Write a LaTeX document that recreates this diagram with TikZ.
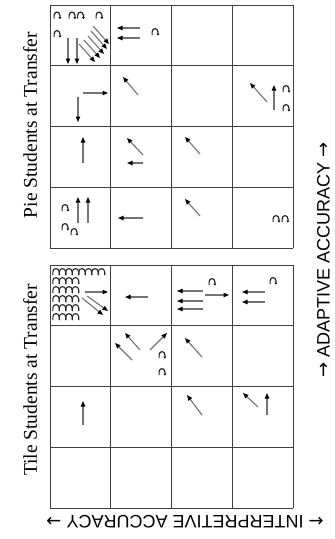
\documentclass[tikz,border=0pt]{standalone}
\usepackage{fontspec}
\setmainfont{Liberation Serif}
\newfontfamily\axisfont{Liberation Sans}
\newfontfamily\arrowfont{DejaVu Sans}
\usetikzlibrary{arrows.meta}
\begin{document}
\begin{tikzpicture}[x=1pt,y=-1pt,
  gridline/.style={draw=black!75, line width=0.9pt},
  mv/.style={draw=black!55, line width=1.1pt, -{Triangle[length=5.5pt,width=4.4pt,color=black]}},
  archline/.style={draw=black!85, line width=1.2pt, -{Triangle[length=2pt,width=2.8pt,color=black]}},
  arch/.pic={\draw[archline] (-2.9,3) -- (-2.9,0) .. controls (-2.9,-4.5) and (2.9,-4.5) .. (2.9,0) -- (2.9,3.5);},
  wave/.pic={\draw[draw=black!85, line width=1.1pt] (-3.2,3) -- (-3.2,0) .. controls (-3.2,-4.5) and (3.2,-4.5) .. (3.2,0) -- (3.2,3);},
  titletext/.style={font=\fontsize{19.5}{21}\selectfont, rotate=90, inner sep=0pt},
  axistext/.style={font=\axisfont\fontsize{18}{20}\selectfont, inner sep=0pt}]
\useasboundingbox[fill=white] (0,0) rectangle (335,539);

% grids
\foreach \yb in {5,265}{
  \foreach \k in {0,1,2,3,4}{
    \draw[gridline] ({50+60.75*\k},\yb) -- ({50+60.75*\k},{\yb+243});
    \draw[gridline] (50,{\yb+60.75*\k}) -- (293,{\yb+60.75*\k});
  }
}

% ---------- Pie grid ----------
% r1c1
\foreach \p in {(57,15.5),(72,15.5),(80.5,15.5),(99,15.5),(57,34)} \pic at \p {arch};
\draw[mv] (68,38) -- (68,64);
\draw[mv] (77,38) -- (77,64);
\draw[mv] (79,44) -- (95,62);
\draw[mv] (84,40) -- (100,58);
\draw[mv] (88,36) -- (104,54);
\draw[mv] (91,31) -- (107,49);
\draw[mv] (93,26) -- (109,44);
% r1c2
\draw[mv] (140,28) -- (117,28);
\draw[mv] (140,38) -- (117,38);
\pic at (155,32) {arch};
% r2c1
\draw[mv] (83,93) -- (108,93);
\draw[mv] (78,97) -- (78,122);
% r2c2
\draw[mv] (138,95) -- (123,77);
% r2c4
\draw[mv] (267,102) -- (250,83);
\draw[mv] (274,110) -- (274,85);
\pic at (286,89) {arch};
\pic at (286,108) {arch};
% r3c1
\draw[mv] (83,163) -- (83,137);
% r3c2
\draw[mv] (143,155) -- (127,138);
\draw[mv] (143,163) -- (127,163);
% r3c3
\draw[mv] (200,154) -- (185,137);
% r4c1
\foreach \p in {(65,208),(65,227),(74,232)} \pic at \p {arch};
\draw[mv] (78,223) -- (78,197);
\draw[mv] (88,223) -- (88,197);
% r4c2
\draw[mv] (143,218) -- (118,218);
% r4c3
\draw[mv] (200,216) -- (185,199);
% r4c4
\pic at (276,219) {arch};
\pic at (285,219) {arch};

% ---------- Tile grid ----------
% R1C1 dense loops
\foreach \yy in {272,281,290,299,308,317}
  \foreach \xx in {56,62.5,69,75.5} \pic at (\xx,\yy) {wave};
\foreach \xx in {82,88.5,95,101.5} \pic at (\xx,272) {wave};
\draw[mv] (85,292) -- (108,292);
\draw[mv] (82,298) -- (103,315);
\draw[mv] (87,296) -- (108,311);
% R1C2
\draw[mv] (148,297) -- (125,297);
% R1C3
\pic at (212,282) {arch};
\draw[mv] (203,291) -- (177,291);
\draw[mv] (203,301) -- (177,301);
\draw[mv] (203,309) -- (177,309);
\draw[mv] (205,295) -- (229,295);
% R1C4
\pic at (273,281) {arch};
\draw[mv] (265,292) -- (242,292);
\draw[mv] (265,302) -- (242,302);
% R2C2
\draw[mv] (132,360) -- (115,343);
\draw[mv] (140,350) -- (125,333);
\draw[mv] (150,350) -- (167,333);
\pic at (162,355) {arch};
\pic at (162,372) {arch};
% R2C3
\draw[mv] (202,357) -- (185,338);
% R3C1
\draw[mv] (83,425) -- (83,401);
% R3C3
\draw[mv] (202,415) -- (187,395);
% R3C4
\draw[mv] (258,407) -- (243,393);
\draw[mv] (267,415) -- (267,393);

% ---------- labels ----------
\node[titletext] (pie) at (30,125) {Pie Students at Transfer};
\node[titletext] (tile) at (30,380) {Tile Students at Transfer};
\node[axistext, rotate=90] (adapt) at (323.5,260) {{\arrowfont →} ADAPTIVE ACCURACY {\arrowfont →}};
\node[axistext, rotate=180] (interp) at (185,522) {{\arrowfont ←} INTERPRETIVE ACCURACY {\arrowfont →}};
\end{tikzpicture}
\end{document}
